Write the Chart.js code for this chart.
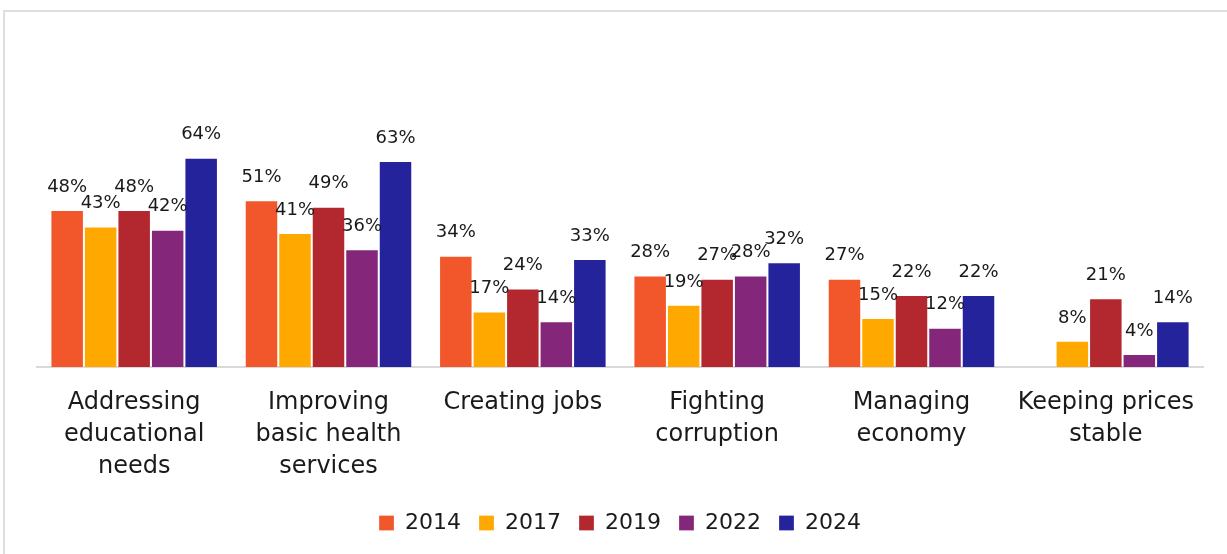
<!DOCTYPE html>
<html>
<head>
<meta charset="utf-8">
<script src="https://cdn.jsdelivr.net/npm/chart.js@4/dist/chart.umd.min.js"></script>
<style>
  html, body { margin: 0; padding: 0; background: #fff; overflow: hidden; }
  body { width: 1227px; height: 554px; position: relative; }
  .rule { position: absolute; background: #dedede; }
  #ruleTop { left: 3px; top: 10px; width: 1224px; height: 2px; }
  #ruleLeft { left: 3px; top: 10px; width: 2px; height: 544px; }
  #wrap { position: absolute; left: 0; top: 0; width: 1227px; height: 554px; }
</style>
</head>
<body>
<div class="rule" id="ruleTop"></div>
<div class="rule" id="ruleLeft"></div>
<div id="wrap"><canvas id="c" width="1227" height="554"></canvas></div>
<script>
const categories = [
  ["Addressing", "educational", "needs"],
  ["Improving", "basic health", "services"],
  ["Creating jobs"],
  ["Fighting", "corruption"],
  ["Managing", "economy"],
  ["Keeping prices", "stable"]
];
const seriesNames = ["2014", "2017", "2019", "2022", "2024"];
const values2014 = [48, 51, 34, 28, 27, null];
const values2017 = [43, 41, 17, 19, 15, 8];
const values2019 = [48, 49, 24, 27, 22, 21];
const values2022 = [42, 36, 14, 28, 12, 4];
const values2024 = [64, 63, 33, 32, 22, 14];
const seriesColors = ["#F2572B", "#FFA800", "#B3282E", "#84277A", "#24239B"];

const FONT = "'DejaVu Sans', sans-serif";
const allValues = [values2014, values2017, values2019, values2022, values2024];

// percentage labels above each bar
const barLabels = {
  id: 'barLabels',
  afterDatasetsDraw(chart) {
    const ctx = chart.ctx;
    ctx.save();
    ctx.font = "18px " + FONT;
    ctx.fillStyle = "#1a1a1a";
    ctx.textAlign = "center";
    ctx.textBaseline = "middle";
    chart.data.datasets.forEach((ds, i) => {
      const meta = chart.getDatasetMeta(i);
      meta.data.forEach((bar, j) => {
        const v = ds.data[j];
        if (v === null || v === undefined) return;
        ctx.fillText(v + "%", bar.x, bar.y - 23);
      });
    });
    ctx.restore();
  }
};

new Chart(document.getElementById('c'), {
  type: 'bar',
  data: {
    labels: categories,
    datasets: seriesNames.map((name, i) => ({
      label: name,
      data: allValues[i],
      backgroundColor: seriesColors[i],
      borderColor: 'rgba(255,255,255,0.25)',
      borderWidth: 1,
      barPercentage: 1.0,
      categoryPercentage: 0.862
    }))
  },
  options: {
    responsive: false,
    animation: false,
    layout: { padding: { left: 37, right: 24, top: 40, bottom: 10 } },
    plugins: {
      tooltip: { enabled: false },
      legend: {
        position: 'bottom',
        labels: {
          boxWidth: 15, boxHeight: 15, padding: 18,
          color: '#1a1a1a',
          font: { family: FONT, size: 22 }
        }
      }
    },
    scales: {
      x: {
        grid: { display: false, drawTicks: false },
        border: { display: true, color: '#d9d9d9', width: 2 },
        ticks: {
          color: '#1a1a1a',
          padding: 20,
          maxRotation: 0,
          autoSkip: false,
          font: { family: FONT, size: 24, lineHeight: 1.333 }
        },
        afterFit(scale) { scale.height = 127; }
      },
      y: {
        display: false,
        min: 0, max: 100
      }
    }
  },
  plugins: [barLabels]
});
</script>
</body>
</html>
